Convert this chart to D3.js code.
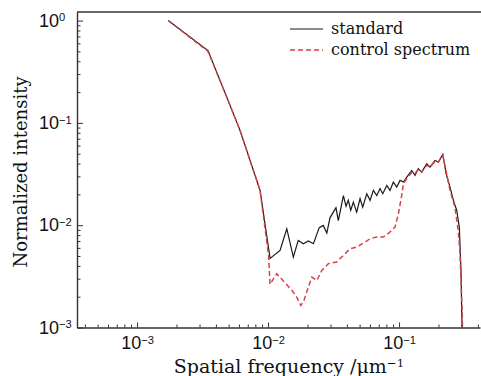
<!DOCTYPE html>
<html>
<head>
<meta charset="utf-8">
<script src="https://cdn.jsdelivr.net/npm/d3@7"></script>
<style>
  body { margin: 0; background: #fff; }
  svg { display: block; font-family: 'DejaVu Serif', serif; }
</style>
</head>
<body>
<div id="chart"></div>
<script>
// values
const standardFreq = [0.00173, 0.00348, 0.00495, 0.00611, 0.00869, 0.01036, 0.01235, 0.0139, 0.0156, 0.0170,
  0.0186, 0.0203, 0.0222, 0.0246, 0.0264, 0.0281, 0.0297, 0.0330, 0.0344, 0.0376,
  0.0394, 0.0410, 0.0428, 0.0448, 0.0475, 0.0504, 0.0528, 0.0567, 0.0601, 0.0637,
  0.0676, 0.0716, 0.0751, 0.0806, 0.0853, 0.0905, 0.0960, 0.1018, 0.108, 0.1146,
  0.125, 0.1325, 0.1403, 0.149, 0.1626, 0.1724, 0.188, 0.1995, 0.216, 0.2286,
  0.245, 0.260, 0.2755, 0.2884, 0.2972, 0.301, 0.303]
const standardValue = [1.0, 0.51, 0.166, 0.0845, 0.0219, 0.00473, 0.00567, 0.00924, 0.00488, 0.0071,
  0.00659, 0.0070, 0.00659, 0.00946, 0.00996, 0.00837, 0.0118, 0.0148, 0.0111, 0.0195,
  0.0153, 0.0175, 0.0140, 0.0168, 0.0134, 0.0182, 0.0150, 0.0203, 0.0175, 0.0219,
  0.0195, 0.0228, 0.0203, 0.0245, 0.0219, 0.0264, 0.0236, 0.0274, 0.0264, 0.0295,
  0.0343, 0.0307, 0.0357, 0.0330, 0.0399, 0.0370, 0.0430, 0.0414, 0.0492, 0.0319,
  0.0236, 0.0175, 0.0140, 0.00958, 0.00361, 0.00136, 0.001]

const controlFreq = [0.00173, 0.00348, 0.00495, 0.00611, 0.00869, 0.01009, 0.01036, 0.01164, 0.0130, 0.0152,
  0.0166, 0.0178, 0.0188, 0.0203, 0.0216, 0.0236, 0.0257, 0.0289, 0.0334, 0.0376,
  0.0423, 0.0475, 0.0550, 0.0601, 0.0676, 0.0759, 0.0853, 0.0931, 0.0988, 0.1048,
  0.108, 0.1146, 0.125, 0.1325, 0.1403, 0.149, 0.1626, 0.1724, 0.188, 0.1995,
  0.216, 0.245, 0.267, 0.283, 0.292, 0.304, 0.305]
const controlValue = [1.0, 0.5, 0.166, 0.0845, 0.0219, 0.00507, 0.00264, 0.00336, 0.00288, 0.00231,
  0.00197, 0.00164, 0.00184, 0.00248, 0.00311, 0.00288, 0.00361, 0.00421, 0.00436, 0.00507,
  0.00589, 0.00611, 0.00684, 0.00738, 0.00766, 0.00766, 0.00857, 0.00958, 0.0129, 0.0195,
  0.0255, 0.0286, 0.0328, 0.0321, 0.0351, 0.0330, 0.0385, 0.0370, 0.0421, 0.0414,
  0.0481, 0.0219, 0.0150, 0.0089, 0.0053, 0.00137, 0.001]

const xMajorTicks = [1e-3, 1e-2, 1e-1]
const yMajorTicks = [1e-3, 1e-2, 1e-1, 1]
const seriesNames = ['standard', 'control spectrum']
const xTitle = 'Spatial frequency /\u03bcm'
const xTitleUnitPower = '\u22121'
const yTitle = 'Normalized intensity'

const dimensions = {
  width: 481,
  height: 376,
  margin: { top: 12, right: 1, bottom: 48.5, left: 77 }
}
const RED = '#d93f45'

function minorTicks (lo, hi, decades) {
  const out = []
  decades.forEach(e => {
    for (let m = 2; m <= 9; m++) {
      const v = m * Math.pow(10, e)
      if (v > lo && v < hi) out.push(v)
    }
  })
  return out
}

function powerLabel (axisGroup) {
  axisGroup.selectAll('.tick text').each(function (d) {
    const e = Math.round(Math.log10(d))
    const t = d3.select(this).text(null)
    t.append('tspan').text('10')
    t.append('tspan')
      .attr('dy', '-0.5em')
      .attr('font-size', '0.62em')
      .text(String(e).replace('-', '\u2212'))
  })
}

const svg = d3.select('#chart').append('svg')
  .attr('width', dimensions.width)
  .attr('height', dimensions.height)

const xScale = d3.scaleLog()
  .domain([3.48e-4, 0.415])
  .range([dimensions.margin.left, dimensions.width - dimensions.margin.right])
const yScale = d3.scaleLog()
  .domain([1e-3, Math.pow(10, 0.084)])
  .range([dimensions.height - dimensions.margin.bottom, dimensions.margin.top])

const bottomY = dimensions.height - dimensions.margin.bottom
const left = dimensions.margin.left

svg.append('clipPath').attr('id', 'plot-clip')
  .append('rect')
  .attr('x', left)
  .attr('y', dimensions.margin.top)
  .attr('width', dimensions.width - left)
  .attr('height', bottomY - dimensions.margin.top)

// lines
const line = d3.line()
  .x(d => xScale(d[0]))
  .y(d => yScale(d[1]))

const bounds = svg.append('g').attr('clip-path', 'url(#plot-clip)')
bounds.append('path')
  .datum(d3.zip(standardFreq, standardValue))
  .attr('d', line)
  .attr('fill', 'none')
  .attr('stroke', '#1a1a1a')
  .attr('stroke-width', 1.2)
bounds.append('path')
  .datum(d3.zip(controlFreq, controlValue))
  .attr('d', line)
  .attr('fill', 'none')
  .attr('stroke', RED)
  .attr('stroke-width', 1.5)
  .attr('stroke-dasharray', '5,3')

// axes
const xMinor = minorTicks(xScale.domain()[0], xScale.domain()[1], [-4, -3, -2, -1])
const yMinor = minorTicks(yScale.domain()[0], yScale.domain()[1], [-3, -2, -1, 0])

svg.append('g')
  .attr('transform', `translate(0, ${bottomY})`)
  .call(d3.axisBottom(xScale).tickValues(xMinor).tickSizeInner(-3).tickSizeOuter(0).tickFormat(''))
  .call(g => g.select('.domain').remove())
const xAxisContainer = svg.append('g')
  .attr('transform', `translate(0, ${bottomY})`)
  .call(d3.axisBottom(xScale).tickValues(xMajorTicks).tickSizeInner(-5).tickSizeOuter(0).tickPadding(9))
xAxisContainer.call(powerLabel)

svg.append('g')
  .attr('transform', `translate(${left}, 0)`)
  .call(d3.axisLeft(yScale).tickValues(yMinor).tickSizeInner(-3.5).tickSizeOuter(0).tickFormat(''))
  .call(g => g.select('.domain').remove())
const yAxisContainer = svg.append('g')
  .attr('transform', `translate(${left}, 0)`)
  .call(d3.axisLeft(yScale).tickValues(yMajorTicks).tickSizeInner(-6).tickSizeOuter(0))
yAxisContainer.call(powerLabel)
yAxisContainer.selectAll('.tick text')
  .attr('text-anchor', 'start')
  .attr('x', 39 - left)

svg.selectAll('.tick text').attr('font-size', 18).attr('fill', '#111').attr('font-family', null)
svg.selectAll('.tick line').attr('stroke', '#333').attr('stroke-width', 1)
svg.selectAll('.domain').attr('stroke', '#333').attr('stroke-width', 1.4)

// top spine
svg.append('line')
  .attr('x1', left).attr('x2', dimensions.width)
  .attr('y1', dimensions.margin.top).attr('y2', dimensions.margin.top)
  .attr('stroke', '#333').attr('stroke-width', 1.4)

// titles
const xt = svg.append('text')
  .attr('x', 289)
  .attr('y', 373)
  .attr('text-anchor', 'middle')
  .attr('font-size', 19)
  .attr('fill', '#111')
xt.append('tspan').text(xTitle)
xt.append('tspan').attr('dy', '-0.5em').attr('font-size', '0.62em').text(xTitleUnitPower)

svg.append('text')
  .attr('transform', 'translate(27, 172) rotate(-90)')
  .attr('text-anchor', 'middle')
  .attr('font-size', 18)
  .attr('fill', '#111')
  .text(yTitle)

// legend
const legend = svg.append('g')
const legendStyles = [
  { stroke: '#1a1a1a', dash: null, width: 1.2, y: 29 },
  { stroke: RED, dash: '5,3', width: 1.5, y: 50 }
]
seriesNames.forEach((name, i) => {
  const s = legendStyles[i]
  legend.append('line')
    .attr('x1', 290).attr('x2', 323)
    .attr('y1', s.y).attr('y2', s.y)
    .attr('stroke', s.stroke)
    .attr('stroke-width', s.width)
    .attr('stroke-dasharray', s.dash)
  legend.append('text')
    .attr('x', 331)
    .attr('y', s.y + 5)
    .attr('font-size', 16)
    .attr('fill', '#111')
    .text(name)
})
</script>
</body>
</html>
